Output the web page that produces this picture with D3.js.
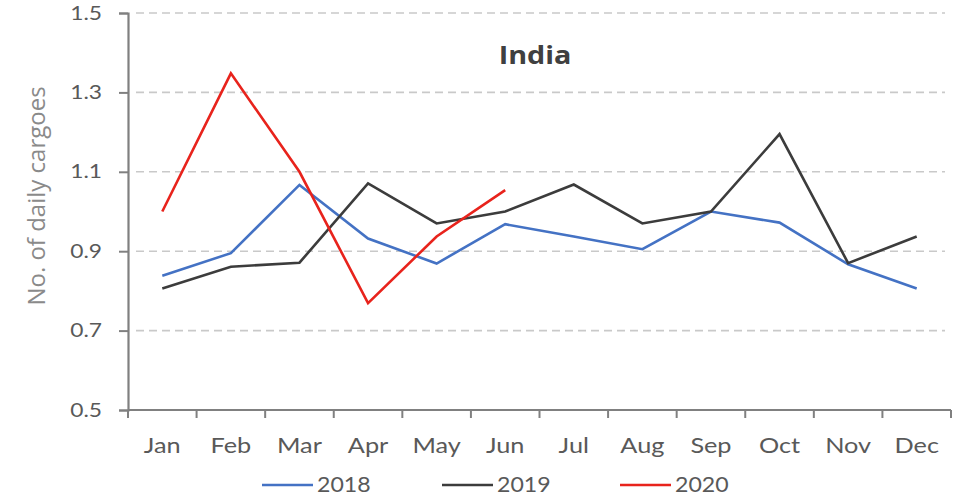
<!DOCTYPE html>
<html>
<head>
<meta charset="utf-8">
<script src="https://cdn.jsdelivr.net/npm/d3@7"></script>
<style>
  html, body { margin: 0; padding: 0; background: #fff; }
  svg { display: block; }
</style>
</head>
<body>
<svg id="chart" width="958" height="496"></svg>
<script>
// Monthly average number of daily cargoes, India
const months = ["Jan", "Feb", "Mar", "Apr", "May", "Jun", "Jul", "Aug", "Sep", "Oct", "Nov", "Dec"];
const values2018 = [0.838, 0.895, 1.067, 0.932, 0.869, 0.968, 0.937, 0.905, 1.0, 0.972, 0.867, 0.806];
const values2019 = [0.806, 0.861, 0.871, 1.071, 0.970, 1.0, 1.068, 0.970, 1.0, 1.195, 0.870, 0.937];
const values2020 = [1.0, 1.348, 1.100, 0.769, 0.937, 1.054];
const seriesNames = ["2018", "2019", "2020"];
const seriesColors = ["#4472c4", "#3c3c3c", "#e8231c"];
const yTicks = [0.5, 0.7, 0.9, 1.1, 1.3, 1.5];

const svg = d3.select("#chart");
const plotLeft = 128, plotRight = 951, plotTop = 13, plotBottom = 410;

const x = d3.scaleBand().domain(months).range([plotLeft, plotRight]).padding(0);
const y = d3.scaleLinear().domain([0.5, 1.5]).range([plotBottom, plotTop]);
const cx = m => x(m) + x.bandwidth() / 2;

const tickFont = "Lato, 'Open Sans', sans-serif";
const textGrey = "#595959";
const axisGrey = "#808080";
const widen = 1.15; // labels are set slightly wide

// Dashed horizontal gridlines
svg.append("g")
  .selectAll("line")
  .data(yTicks.filter(v => v > 0.5))
  .join("line")
  .attr("x1", plotLeft + 8).attr("x2", plotRight - 6)
  .attr("y1", d => y(d)).attr("y2", d => y(d))
  .attr("stroke", "#c9c9c9")
  .attr("stroke-width", 1.6)
  .attr("stroke-dasharray", "8,5");

// Y axis
const yAxis = svg.append("g")
  .attr("transform", `translate(${plotLeft},0)`)
  .call(d3.axisLeft(y).tickValues(yTicks).tickFormat(d3.format(".1f")).tickSize(9).tickPadding(17));
yAxis.select(".domain").attr("stroke", axisGrey).attr("stroke-width", 2.2);
yAxis.selectAll(".tick line").attr("stroke", axisGrey).attr("stroke-width", 2);
yAxis.selectAll(".tick text")
  .attr("x", 0)
  .attr("transform", `translate(-26,0) scale(1.2,1)`)
  .attr("fill", textGrey)
  .style("font-family", tickFont)
  .style("font-size", "19px");

// X axis: baseline, boundary ticks and month labels
const xAxis = svg.append("g");
xAxis.append("line")
  .attr("x1", plotLeft).attr("x2", plotRight)
  .attr("y1", y(0.5)).attr("y2", y(0.5))
  .attr("stroke", axisGrey).attr("stroke-width", 2.2);
const edges = months.map(m => x(m)).concat([x.range()[1]]);
xAxis.selectAll("line.tick")
  .data(edges)
  .join("line")
  .attr("class", "tick")
  .attr("x1", d => d).attr("x2", d => d)
  .attr("y1", y(0.5)).attr("y2", y(0.5) + 8)
  .attr("stroke", axisGrey).attr("stroke-width", 2);
xAxis.selectAll("text")
  .data(months)
  .join("text")
  .attr("transform", d => `translate(${cx(d)},453) scale(${widen},1)`)
  .attr("text-anchor", "middle")
  .attr("fill", textGrey)
  .style("font-family", tickFont)
  .style("font-size", "22px")
  .text(d => d);

// Y axis title
svg.append("text")
  .attr("transform", "translate(45,196) rotate(-90)")
  .attr("text-anchor", "middle")
  .attr("fill", "#8a8a8a")
  .style("font-family", "'Open Sans', sans-serif")
  .style("font-size", "24px")
  .text("No. of daily cargoes");

// Chart title
svg.append("text")
  .attr("transform", `translate(535,64) scale(${widen},1)`)
  .attr("text-anchor", "middle")
  .attr("fill", "#404040")
  .style("font-family", "'Open Sans', sans-serif")
  .style("font-weight", "bold")
  .style("font-size", "25px")
  .text("India");

// Series lines
const line = d3.line()
  .x((d, i) => cx(months[i]))
  .y(d => y(d));
const allSeries = [values2018, values2019, values2020];
svg.append("g")
  .selectAll("path")
  .data(allSeries)
  .join("path")
  .attr("d", d => line(d))
  .attr("fill", "none")
  .attr("stroke", (d, i) => seriesColors[i])
  .attr("stroke-width", 2.6)
  .attr("stroke-linejoin", "miter");

// Legend
const legendX = [262, 442, 620];
const legend = svg.append("g")
  .selectAll("g")
  .data(seriesNames)
  .join("g")
  .attr("transform", (d, i) => `translate(${legendX[i]},485)`);
legend.append("line")
  .attr("x1", 0).attr("x2", 51)
  .attr("y1", 0).attr("y2", 0)
  .attr("stroke", (d, i) => seriesColors[i])
  .attr("stroke-width", 2.6);
legend.append("text")
  .attr("transform", "translate(55,7) scale(1.1,1)")
  .attr("fill", textGrey)
  .style("font-family", tickFont)
  .style("font-size", "21px")
  .text(d => d);
</script>
</body>
</html>
